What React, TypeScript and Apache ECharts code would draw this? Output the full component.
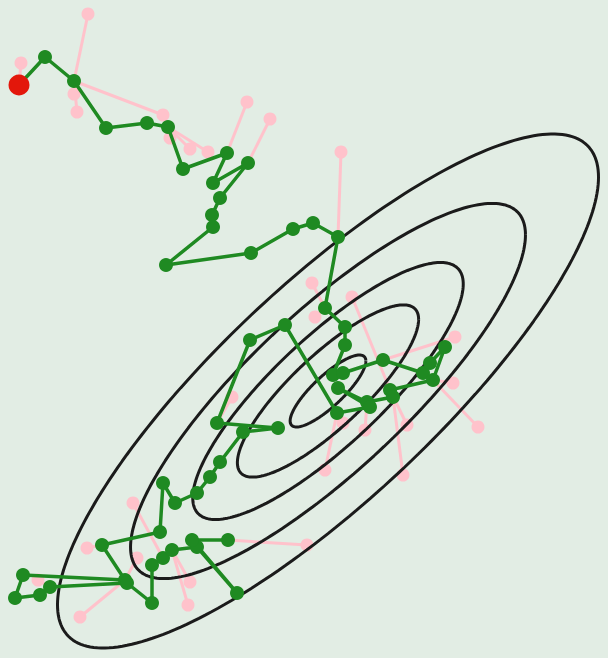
import React, { useEffect, useRef } from "react";
import * as echarts from "echarts";

// Accepted Metropolis-Hastings chain (state x / state y), in walk order
const chainX = [19, 45, 74, 106, 147, 168, 183, 227, 213, 248, 220, 212, 213, 166, 251, 293, 313, 338, 325, 345, 345, 333, 343, 383, 423, 430, 445, 433, 390, 393, 367, 338, 370, 337, 285, 250, 217, 278, 243, 220, 210, 197, 175, 163, 160, 102, 125, 23, 15, 40, 50, 127, 152, 152, 163, 172, 197, 237, 192, 228];
const chainY = [85, 57, 81, 128, 123, 127, 169, 153, 183, 163, 198, 215, 227, 265, 253, 229, 223, 237, 308, 327, 345, 375, 373, 360, 373, 363, 347, 380, 390, 397, 402, 388, 407, 413, 325, 340, 423, 428, 432, 462, 477, 493, 503, 483, 532, 545, 580, 575, 598, 595, 587, 583, 603, 565, 558, 550, 547, 593, 540, 540];

// Rejected proposals: index of the state they were proposed from, and their position
const rejFrom = [0, 2, 2, 2, 2, 5, 5, 5, 7, 9, 17, 18, 18, 29, 23, 27, 27, 28, 29, 30, 33, 33, 36, 54, 55, 55, 45, 46, 50, 46, 59];
const rejX = [21, 88, 74, 77, 163, 170, 190, 208, 247, 270, 341, 312, 315, 352, 455, 453, 478, 407, 403, 365, 343, 325, 232, 133, 190, 188, 87, 137, 38, 80, 307];
const rejY = [63, 14, 94, 112, 115, 138, 149, 152, 102, 119, 152, 283, 317, 297, 337, 383, 427, 425, 475, 430, 423, 470, 397, 503, 582, 605, 548, 558, 580, 617, 545];

// Target Gaussian and its contour levels
const targetMean = [328, 391];
const targetSd = [270.5, 257];
const targetRho = -0.832;
const contourLevels = [0.14, 0.335, 0.5, 0.73, 1.0];

function contour(level: number): number[][] {
  const pts: number[][] = [];
  const n = 240;
  const k = Math.sqrt(1 - targetRho * targetRho);
  for (let i = 0; i <= n; i++) {
    const t = (i / n) * Math.PI * 2;
    pts.push([
      targetMean[0] + level * targetSd[0] * Math.cos(t),
      targetMean[1] + level * targetSd[1] * (targetRho * Math.cos(t) + k * Math.sin(t)),
    ]);
  }
  return pts;
}

export default function App() {
  const ref = useRef<HTMLDivElement>(null);
  useEffect(() => {
    if (!ref.current) return;
    const chart = echarts.init(ref.current, null, { renderer: "svg" });
    const green = "#1f8a22";
    const pink = "#ffc2cb";
    const series: any[] = [
      {
        type: "lines",
        coordinateSystem: "cartesian2d",
        silent: true,
        z: 1,
        lineStyle: { color: pink, width: 3, opacity: 1 },
        data: rejX.map((x, i) => ({
          coords: [
            [chainX[rejFrom[i]], chainY[rejFrom[i]]],
            [x, rejY[i]],
          ],
        })),
      },
      {
        type: "scatter",
        silent: true,
        z: 2,
        symbolSize: 13,
        itemStyle: { color: pink, opacity: 1 },
        data: rejX.map((x, i) => [x, rejY[i]]),
      },
      ...contourLevels.map((lv) => ({
        type: "line",
        silent: true,
        z: 3,
        showSymbol: false,
        symbol: "none",
        lineStyle: { color: "#1b1b1b", width: 3 },
        data: contour(lv),
      })),
      {
        type: "line",
        silent: true,
        z: 4,
        symbol: "circle",
        symbolSize: 14,
        showAllSymbol: true,
        itemStyle: { color: green, opacity: 1 },
        lineStyle: { color: green, width: 3.5 },
        data: chainX.map((x, i) => [x, chainY[i]]),
      },
      {
        type: "scatter",
        silent: true,
        z: 5,
        symbolSize: 21,
        itemStyle: { color: "#e3170b", opacity: 1 },
        data: [[chainX[0], chainY[0]]],
      },
    ];
    chart.setOption({
      animation: false,
      backgroundColor: "#e2ede4",
      grid: { left: 0, right: 0, top: 0, bottom: 0 },
      xAxis: { type: "value", min: 0, max: 608, show: false },
      yAxis: { type: "value", min: 0, max: 658, inverse: true, show: false },
      series,
    });
    return () => chart.dispose();
  }, []);
  return (
    <div
      ref={ref}
      style={{
        position: "fixed",
        left: 0,
        top: 0,
        width: 608,
        height: 658,
        background: "#e2ede4",
        filter: "blur(0.6px)",
      }}
    />
  );
}
